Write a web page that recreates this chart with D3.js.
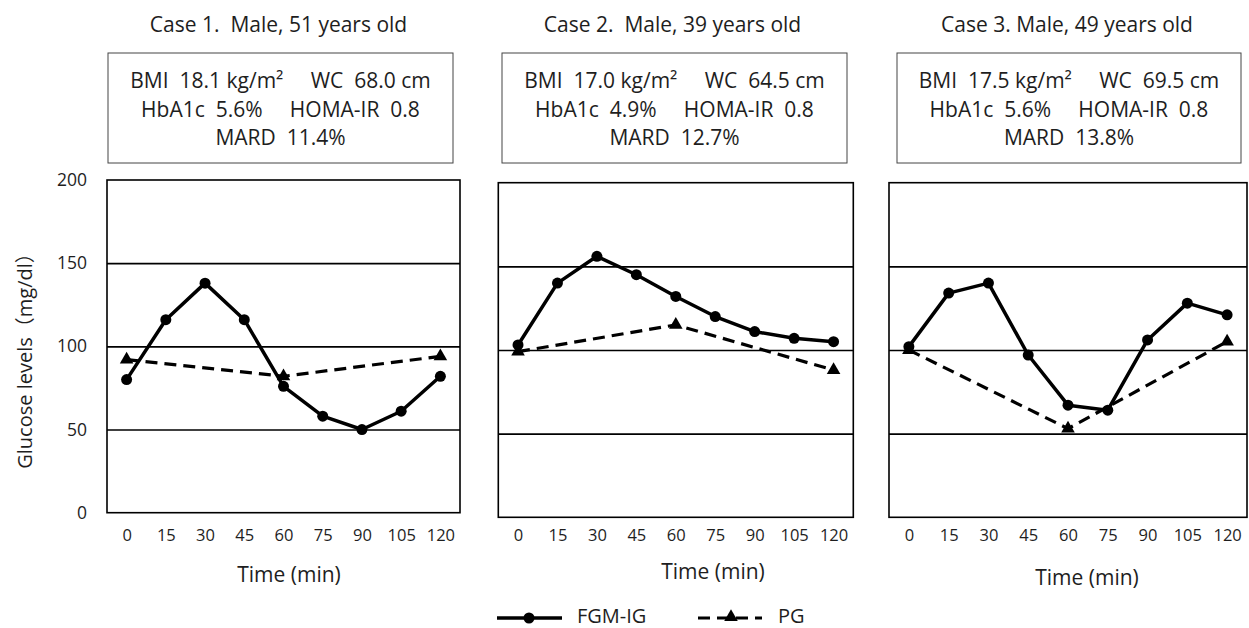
<!DOCTYPE html>
<html>
<head>
<meta charset="utf-8">
<script src="https://cdn.jsdelivr.net/npm/d3@7"></script>
<style>
  body { margin: 0; background: #fff; }
  svg text { font-family: "Open Sans", "Noto Sans CJK JP", sans-serif; fill: #1e1e1e; white-space: pre; }
</style>
</head>
<body>
<svg id="chart" width="1249" height="628"></svg>
<script>
// time points (min)
const times = [0, 15, 30, 45, 60, 75, 90, 105, 120];
const pgTimes = [0, 60, 120];
const yTicks = [0, 50, 100, 150, 200];
const gridTicks = [50, 100, 150];

const titles = ["Case 1.  Male, 51 years old", "Case 2.  Male, 39 years old", "Case 3. Male, 49 years old"];
const infoLine1 = ["BMI  18.1 kg/m\u00b2     WC  68.0 cm", "BMI  17.0 kg/m\u00b2     WC  64.5 cm", "BMI  17.5 kg/m\u00b2     WC  69.5 cm"];
const infoLine2 = ["HbA1c  5.6%     HOMA-IR  0.8", "HbA1c  4.9%     HOMA-IR  0.8", "HbA1c  5.6%     HOMA-IR  0.8"];
const infoLine3 = ["MARD  11.4%", "MARD  12.7%", "MARD  13.8%"];

// FGM-IG (interstitial glucose) and PG (plasma glucose), mg/dl
const fgm1 = [80, 116, 138, 116, 76, 58, 50, 61, 82];
const pg1 = [92, 82, 94];
const fgm2 = [103, 140, 156, 145, 132, 120, 111, 107, 105];
const pg2 = [99, 115, 88];
const fgm3 = [102, 134, 140, 97, 67, 64, 106, 128, 121];
const pg3 = [100, 53, 105];

const fgmSeries = [fgm1, fgm2, fgm3];
const pgSeries = [pg1, pg2, pg3];

// panel layout
const panels = [
    {left: 107, right: 460, top: 180, bottom: 512.7, box: [108, 53, 453, 163], timeY: 582, timeX: 289},
    {left: 498.3, right: 853.3, top: 182.7, bottom: 517.3, box: [502, 53, 847, 163], timeY: 579, timeX: 713},
    {left: 889, right: 1247, top: 182.7, bottom: 517.3, box: [897, 53, 1241, 163], timeY: 585, timeX: 1087}
];

const svg = d3.select("#chart");

panels.forEach((p, i) => {
    const g = svg.append("g");

    const x = d3.scalePoint()
        .domain(times)
        .range([p.left, p.right])
        .padding(0.5);

    const y = d3.scaleLinear()
        .domain([0, 200])
        .range([p.bottom, p.top]);

    // title + info box
    const cx = (p.box[0] + p.box[2]) / 2;
    g.append("text")
        .attr("x", cx - 2)
        .attr("y", 32)
        .attr("text-anchor", "middle")
        .attr("font-size", 21)
        .text(titles[i]);

    g.append("rect")
        .attr("x", p.box[0])
        .attr("y", p.box[1])
        .attr("width", p.box[2] - p.box[0])
        .attr("height", p.box[3] - p.box[1])
        .attr("fill", "none")
        .attr("stroke", "#444")
        .attr("stroke-width", 1);

    [infoLine1[i], infoLine2[i], infoLine3[i]].forEach((t, k) => {
        g.append("text")
            .attr("x", cx)
            .attr("y", [88, 117, 145][k])
            .attr("text-anchor", "middle")
            .attr("font-size", 21)
            .text(t);
    });

    // gridlines
    g.append("g")
        .attr("transform", `translate(${p.left},0)`)
        .call(d3.axisLeft(y).tickValues(gridTicks).tickSize(-(p.right - p.left)).tickFormat(""))
        .call(a => a.select(".domain").remove())
        .call(a => a.selectAll("line").attr("stroke", "#000").attr("stroke-width", 1.6));

    // frame
    g.append("rect")
        .attr("x", p.left)
        .attr("y", p.top)
        .attr("width", p.right - p.left)
        .attr("height", p.bottom - p.top)
        .attr("fill", "none")
        .attr("stroke", "#000")
        .attr("stroke-width", 1.6);

    // y axis labels only on first panel
    if (i === 0) {
        g.append("g")
            .attr("transform", `translate(${p.left},0)`)
            .call(d3.axisLeft(y).tickValues(yTicks).tickSize(0).tickPadding(20))
            .call(a => a.select(".domain").remove())
            .call(a => a.selectAll("text").attr("font-size", 17.5).attr("font-family", null));
    }

    // x axis
    g.append("g")
        .attr("transform", `translate(0,${p.bottom})`)
        .call(d3.axisBottom(x).tickSize(0))
        .call(a => a.select(".domain").remove())
        .call(a => a.selectAll("text")
            .attr("y", 535 - p.bottom)
            .attr("dy", "0.35em")
            .attr("font-size", 16.5)
            .attr("font-family", null));

    g.append("text")
        .attr("x", p.timeX)
        .attr("y", p.timeY)
        .attr("text-anchor", "middle")
        .attr("font-size", 21)
        .text("Time (min)");

    // PG dashed line
    const pgData = pgTimes.map((t, k) => [t, pgSeries[i][k]]);
    const fgmData = times.map((t, k) => [t, fgmSeries[i][k]]);
    const line = d3.line().x(d => x(d[0])).y(d => y(d[1]));

    g.append("path")
        .datum(pgData)
        .attr("d", line)
        .attr("fill", "none")
        .attr("stroke", "#000")
        .attr("stroke-width", 3.2)
        .attr("stroke-dasharray", "12,7");

    g.selectAll(".tri")
        .data(pgData)
        .enter().append("path")
        .attr("class", "tri")
        .attr("transform", d => `translate(${x(d[0])},${y(d[1])})`)
        .attr("d", d3.symbol().type(d3.symbolTriangle).size(80))
        .attr("fill", "#000");

    g.append("path")
        .datum(fgmData)
        .attr("d", line)
        .attr("fill", "none")
        .attr("stroke", "#000")
        .attr("stroke-width", 3.5)
        .attr("stroke-linejoin", "round");

    g.selectAll(".dot")
        .data(fgmData)
        .enter().append("circle")
        .attr("class", "dot")
        .attr("cx", d => x(d[0]))
        .attr("cy", d => y(d[1]))
        .attr("r", 5.5)
        .attr("fill", "#000");
});

// y axis title
svg.append("text")
    .attr("transform", "translate(25,356) rotate(-90)")
    .attr("text-anchor", "middle")
    .attr("dy", "0.35em")
    .attr("font-size", 20)
    .text("Glucose levels\uff08mg/dl\uff09");

// legend
const legend = svg.append("g");
legend.append("line")
    .attr("x1", 497).attr("x2", 562).attr("y1", 618).attr("y2", 618)
    .attr("stroke", "#000").attr("stroke-width", 3.5);
legend.append("circle")
    .attr("cx", 529).attr("cy", 618).attr("r", 5.5).attr("fill", "#000");
legend.append("text")
    .attr("x", 577).attr("y", 623)
    .attr("font-size", 20)
    .text("FGM-IG");

legend.append("line")
    .attr("x1", 698).attr("x2", 762).attr("y1", 618).attr("y2", 618)
    .attr("stroke", "#000").attr("stroke-width", 3.2)
    .attr("stroke-dasharray", "12,7");
legend.append("path")
    .attr("transform", "translate(731,617)")
    .attr("d", d3.symbol().type(d3.symbolTriangle).size(80))
    .attr("fill", "#000");
legend.append("text")
    .attr("x", 778).attr("y", 623)
    .attr("font-size", 20)
    .text("PG");
</script>
</body>
</html>
